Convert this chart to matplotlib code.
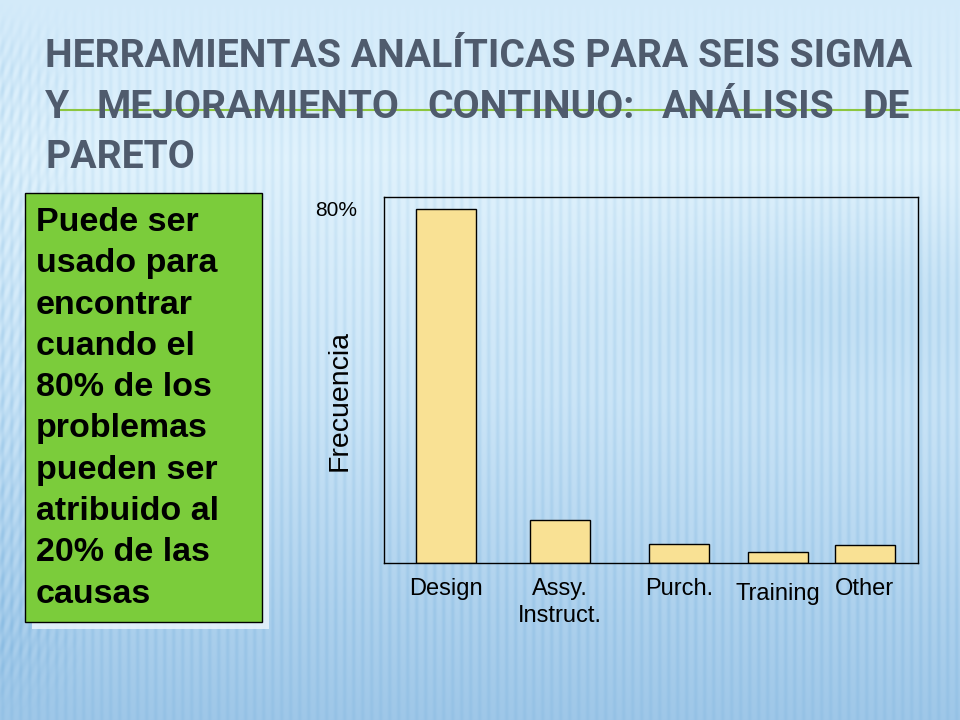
import numpy as np
import matplotlib
matplotlib.use("Agg")
from matplotlib import pyplot as plt
from matplotlib.patches import Rectangle

# data
categories = ["Design", "Assy.\nInstruct.", "Purch.", "Training", "Other"]
frequency = [80.0, 9.7, 4.3, 2.5, 4.1]
y_tick_values = [80]
y_tick_labels = ["80%"]
y_label = "Frecuencia"
title_lines = ["HERRAMIENTAS ANALÍTICAS PARA SEIS SIGMA",
               "Y MEJORAMIENTO CONTINUO: ANÁLISIS DE",
               "PARETO"]
box_lines = ["Puede ser", "usado para", "encontrar", "cuando el", "80% de los",
             "problemas", "pueden ser", "atribuido al", "20% de las", "causas"]

# layout only
bar_pos = [0.58, 1.65, 2.76, 3.69, 4.50]
label_drop = [0.040, 0.040, 0.040, 0.055, 0.040]

W, H = 960, 720
fig = plt.figure(figsize=(9.6, 7.2), dpi=100)

# ---- background (slide texture) ----
yy = np.arange(H)[:, None] / H
xx = np.arange(W)[None, :]
stops = [0.0, 0.22, 0.55, 1.0]
cols = np.array([[0.83, 0.92, 0.98],
                 [0.88, 0.95, 0.99],
                 [0.80, 0.90, 0.97],
                 [0.62, 0.78, 0.91]])
img = np.zeros((H, W, 3))
for c in range(3):
    img[:, :, c] = np.interp(yy, stops, cols[:, c]) * np.ones((1, W))
env = np.clip(np.interp(yy, [0.0, 0.12, 0.5, 0.85, 1.0], [0.0, 0.7, 1.0, 0.9, 0.5]), 0, 1)
stripes = (0.5 + 0.5 * np.sin(2 * np.pi * xx / 9.0)) ** 2
img -= (0.07 * env * stripes)[:, :, None] * np.array([1.0, 0.6, 0.3])
diag = 0.5 + 0.5 * np.sin(2 * np.pi * (xx + 0.45 * np.arange(H)[:, None]) / 10.0)
dmask = np.clip(1 - xx / 90.0, 0, 1) * np.clip(np.interp(yy, [0, 0.08, 0.9, 1], [0, 1, 1, 0]), 0, 1)
img -= (0.06 * diag * dmask)[:, :, None] * np.array([1.0, 0.6, 0.3])
blob = np.exp(-(((xx - 860) / 220.0) ** 2) - (((np.arange(H)[:, None] - 300) / 90.0) ** 2))
img -= (0.06 * blob)[:, :, None] * np.array([1.0, 0.6, 0.3])
img = np.clip(img, 0, 1)

bg = fig.add_axes([0, 0, 1, 1], zorder=0)
bg.imshow(img, extent=(0, W, H, 0), aspect="auto", interpolation="bilinear")
bg.set_xlim(0, W)
bg.set_ylim(H, 0)
bg.axis("off")

# thin green rule behind the title
bg.plot([60, W], [110, 110], color="#8cc63f", lw=1.5, zorder=2)

# ---- title ----
title_font = dict(color="#4f5b6d", va="baseline", ha="left", zorder=3,
                  family=["Roboto", "Liberation Sans", "DejaVu Sans"], weight="bold")
x0, x1 = 45, 910
baselines = [67, 118, 168]
t = bg.text(x0, baselines[0], title_lines[0], fontsize=30, **title_font)
fig.canvas.draw()
r = fig.canvas.get_renderer()
fs = 30 * (x1 - x0) / t.get_window_extent(r).width
t.set_fontsize(fs)

words = title_lines[1].split()
wt = [bg.text(0, baselines[1], w, fontsize=fs, **title_font) for w in words]
fig.canvas.draw()
widths = [w.get_window_extent(r).width for w in wt]
gap = ((x1 - x0) - sum(widths)) / (len(words) - 1)
xpos = x0
for w, wd in zip(wt, widths):
    w.set_x(xpos)
    xpos += wd + gap
bg.text(x0, baselines[2], title_lines[2], fontsize=fs, **title_font)

# ---- green text box ----
bg.add_patch(Rectangle((32, 200), 237, 429, fc="#eaf4fc", ec="none", alpha=0.85, zorder=3))
bg.add_patch(Rectangle((25, 193), 237, 429, fc="#7bcc3b", ec="black", lw=1.0, zorder=4))
for i, line in enumerate(box_lines):
    bg.text(36, 231 + i * 41.3, line, fontsize=24.5, weight="bold", color="black",
            family=["Liberation Sans", "DejaVu Sans"], va="baseline", ha="left", zorder=5)

# ---- chart ----
ax = fig.add_axes([384 / W, 1 - 563 / H, (918 - 384) / W, (563 - 197) / H], zorder=2)
ax.patch.set_alpha(0)
ax.bar(bar_pos, frequency, width=0.56, color="#f9e194", edgecolor="black", linewidth=1.0)
ax.set_xlim(0, 5)
ax.set_ylim(0, 82.7)
for s in ax.spines.values():
    s.set_linewidth(1.0)
    s.set_color("black")
ax.set_yticks(y_tick_values)
ax.set_yticklabels(y_tick_labels, fontsize=15, family=["Liberation Sans", "DejaVu Sans"])
ax.tick_params(axis="y", length=0, pad=19.5)
ax.set_xticks([])
for p, lab, d in zip(bar_pos, categories, label_drop):
    ax.text(p, -d, lab, transform=ax.get_xaxis_transform(), ha="center", va="top",
            fontsize=17, family=["Liberation Sans", "DejaVu Sans"], linespacing=1.3)
ax.set_ylabel(y_label, fontsize=20.5, family=["Liberation Sans", "DejaVu Sans"])
ax.yaxis.set_label_coords(-0.058, 0.445)

fig.savefig("out.png", dpi=100)
